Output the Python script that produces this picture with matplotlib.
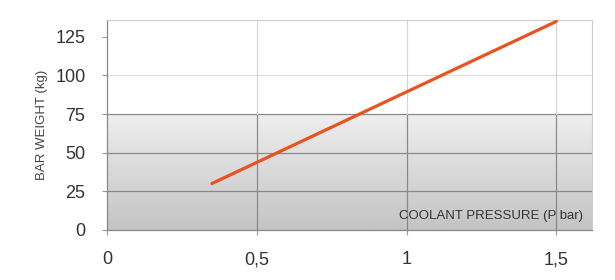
import numpy as np
import matplotlib
matplotlib.use("Agg")
import matplotlib.pyplot as plt
from matplotlib.colors import LinearSegmentedColormap

# data
pressure = [0.35, 1.5]          # P bar
weight = [30, 135]              # kg
x_ticks = [0, 0.5, 1, 1.5]
x_tick_labels = ["0", "0,5", "1", "1,5"]
y_ticks = [0, 25, 50, 75, 100, 125]

plt.rcParams['font.family'] = ['Liberation Sans', 'DejaVu Sans']

fig = plt.figure(figsize=(6.15, 2.8), dpi=100)
ax = fig.add_axes([0.174, 0.179, 0.789, 0.75])
ax.set_xlim(0, 1.62)
ax.set_ylim(0, 136)

# grey gradient band from 0 to 75
cmap = LinearSegmentedColormap.from_list("band", ["#c4c4c4", "#eeeeee"])
grad = np.linspace(0, 1, 100).reshape(-1, 1)
ax.imshow(grad, cmap=cmap, aspect="auto", origin="lower",
          extent=[0, 1.62, 0, 75], zorder=0)

# grid: darker inside the grey band, faint above it
for y in [25, 50, 75]:
    ax.axhline(y, color="#8a8a8a", lw=0.9, zorder=1)
ax.axhline(100, color="#dddddd", lw=0.8, zorder=1)
for x in [0.5, 1, 1.5]:
    ax.plot([x, x], [0, 75], color="#8a8a8a", lw=0.9, zorder=1)
    ax.plot([x, x], [75, 136], color="#d4d4d4", lw=0.8, zorder=1)

ax.plot(pressure, weight, color="#e8531f", lw=2.3, solid_capstyle="round", zorder=3)

for s in ["top", "right"]:
    ax.spines[s].set_color("#cccccc")
    ax.spines[s].set_linewidth(0.8)
for s in ["left", "bottom"]:
    ax.spines[s].set_color("#888888")
    ax.spines[s].set_linewidth(0.9)

ax.set_xticks(x_ticks)
ax.set_xticklabels(x_tick_labels)
ax.set_yticks(y_ticks)
ax.tick_params(axis="both", labelsize=13, labelcolor="#333333", color="#999999",
               length=3.5, width=0.8, pad=12)

ax.set_ylabel("BAR WEIGHT (kg)", fontsize=9.5, color="#444444", labelpad=5)
ax.text(1.59, 9, "COOLANT PRESSURE (P bar)", fontsize=9.5, color="#333333",
        ha="right", va="center", zorder=4)

fig.savefig("out.png", dpi=100)
